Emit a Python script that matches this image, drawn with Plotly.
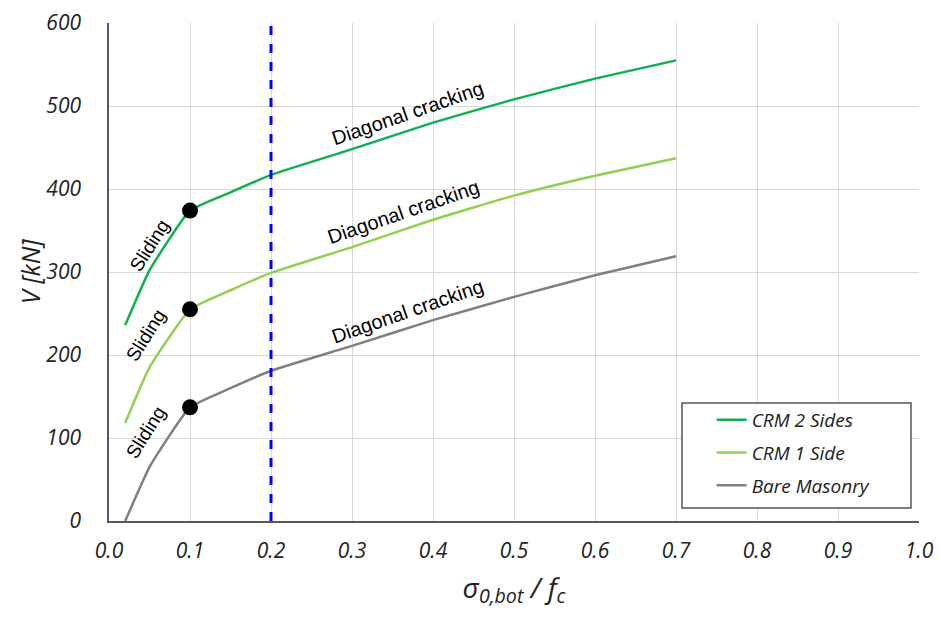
import plotly.graph_objects as go

x_vals = [0.02, 0.05, 0.1, 0.15, 0.2, 0.3, 0.4, 0.5, 0.6, 0.7]
crm2 = [236, 302, 374, 396, 417, 448, 480, 508, 533, 555]
crm1 = [118, 185, 255, 278, 299, 330, 363, 392, 416, 437]
bare = [0, 65, 137, 160, 181, 211, 242, 270, 296, 319]
series_names = ["CRM 2 Sides", "CRM 1 Side", "Bare Masonry"]
series_colors = ["#10B050", "#92D050", "#808080"]
limit_x = 0.2
sliding_x = [0.05, 0.045, 0.045]
sliding_y = [332, 224, 107]
diag_x = [0.369, 0.363, 0.369]
diag_y = [492, 372, 253]

fig = go.Figure()
for i, (name, ys, col) in enumerate(zip(series_names, [crm2, crm1, bare], series_colors)):
    fig.add_trace(go.Scatter(x=x_vals, y=ys, mode="lines", name=name, legendgroup=f"g{i}",
                             line=dict(color=col, width=2.5, shape="spline", smoothing=0.4)))
fig.add_trace(go.Scatter(x=[0.1, 0.1, 0.1], y=[crm2[2], crm1[2], bare[2]], mode="markers",
                         marker=dict(color="black", size=16), showlegend=False))
fig.add_trace(go.Scatter(x=[limit_x, limit_x], y=[0, 600], mode="lines",
                         line=dict(color="#0000FF", width=3, dash="dash"), showlegend=False))

for xs, ys in zip(sliding_x, sliding_y):
    fig.add_annotation(x=xs, y=ys, text="Sliding", showarrow=False, textangle=-58,
                       font=dict(family="Liberation Sans", size=19, color="black"))
for xs, ys in zip(diag_x, diag_y):
    fig.add_annotation(x=xs, y=ys, text="Diagonal cracking", showarrow=False, textangle=-19,
                       font=dict(family="Liberation Sans", size=20, color="black"))

# y-axis title
fig.add_annotation(xref="paper", yref="paper", x=(30 - 109) / 810, y=0.5, text="V [kN]",
                   showarrow=False, textangle=-90, xanchor="center", yanchor="middle",
                   font=dict(size=25, family="Open Sans", style="italic", color="#222"))

# legend frame
fig.add_shape(type="rect", xref="paper", yref="paper",
              x0=(682 - 109) / 810, x1=(911 - 109) / 810,
              y0=(521 - 508) / 498, y1=(521 - 403) / 498,
              line=dict(color="#555", width=1.5), fillcolor="white", layer="above")

fig.update_layout(
    width=940, height=618,
    margin=dict(l=109, r=21, t=23, b=97, autoexpand=False),
    plot_bgcolor="white", paper_bgcolor="white",
    font=dict(family="Open Sans", color="#222"),
    legend=dict(x=0.744, y=0.241, xanchor="left", yanchor="top",
                bgcolor="rgba(0,0,0,0)", borderwidth=0,
                font=dict(size=19, family="Open Sans", style="italic"),
                tracegroupgap=5, itemwidth=30),
    xaxis=dict(range=[0, 1.0], dtick=0.1, tickformat=".1f", showgrid=True, gridcolor="#D9D9D9",
               showline=True, linecolor="#595959", linewidth=1.5, ticks="", zeroline=False,
               ticklabelstandoff=10,
               tickfont=dict(size=21, style="italic", color="#222"),
               title=dict(text="σ<sub>0,bot</sub> / <i>f</i><sub>c</sub>",
                          font=dict(size=28, style="italic", color="#222"), standoff=15)),
    yaxis=dict(range=[0, 600], dtick=100, showgrid=True, gridcolor="#D9D9D9",
               showline=True, linecolor="#595959", linewidth=1.5, ticks="", zeroline=False,
               ticklabelstandoff=22,
               tickfont=dict(size=21, style="italic", color="#222")),
)
fig.write_html("out.html", config={"displayModeBar": False},
               post_script="document.body.style.margin='0';")
